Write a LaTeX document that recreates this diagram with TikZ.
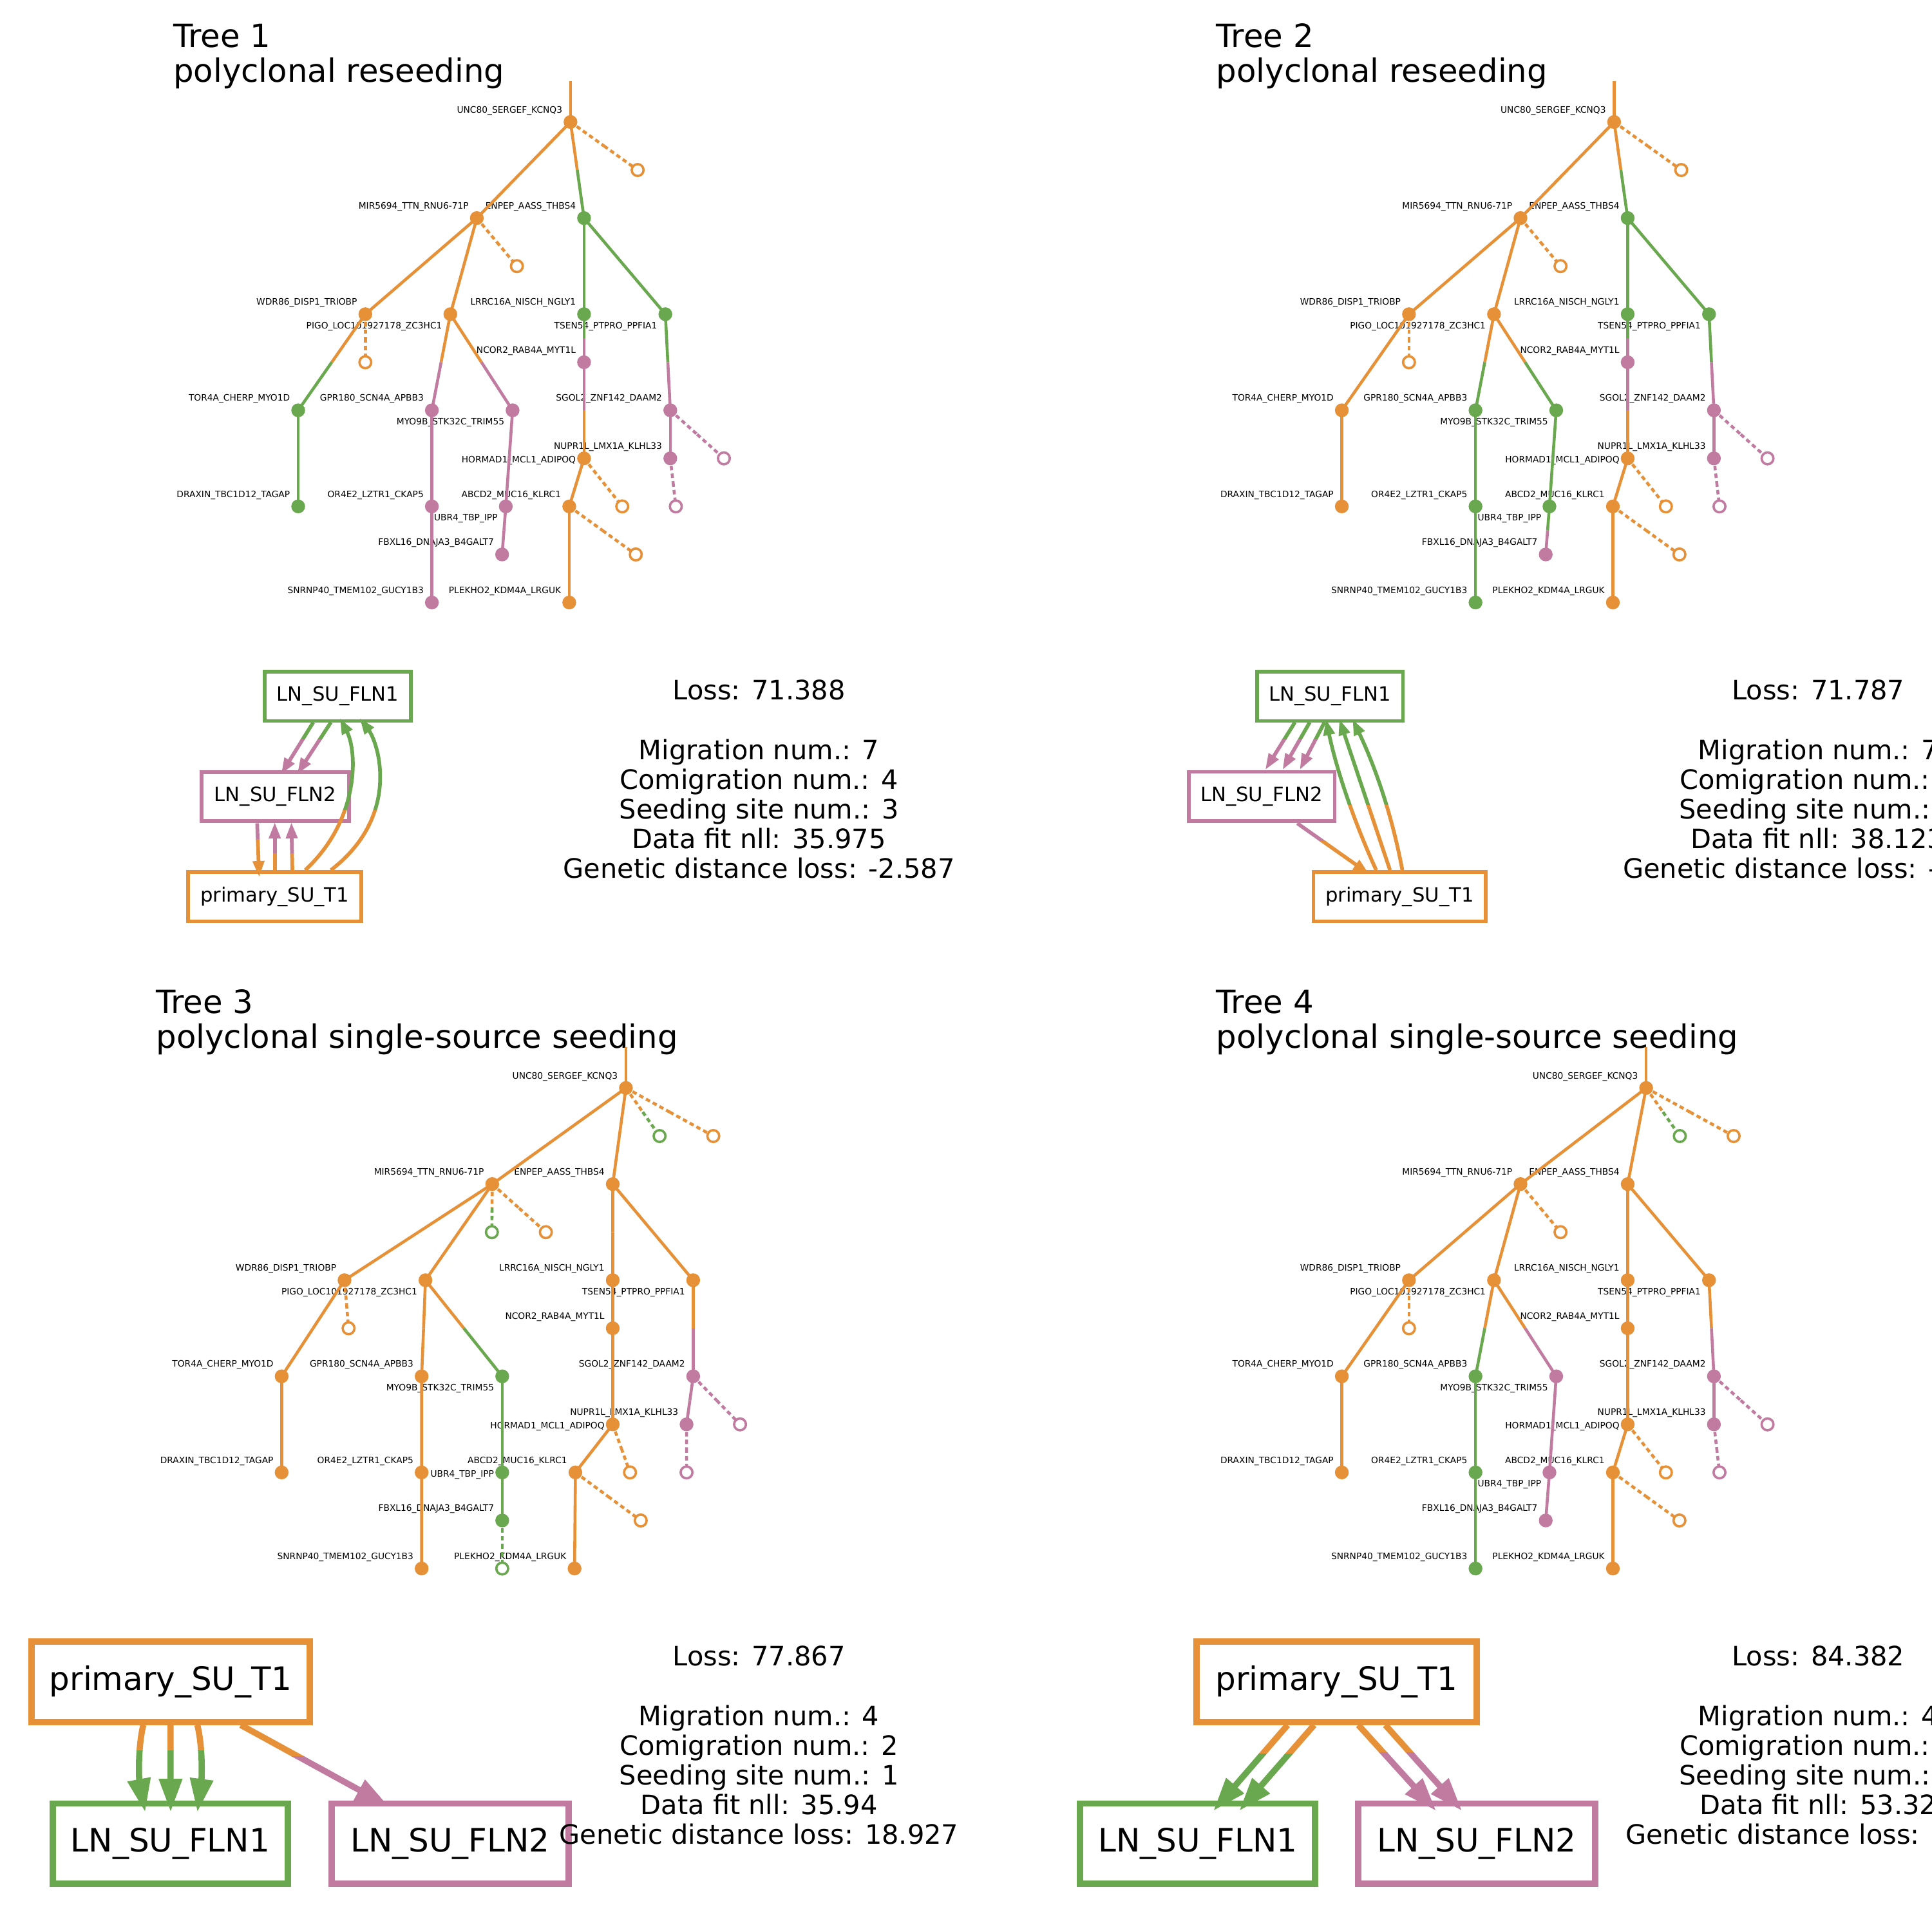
\documentclass[tikz,border=0pt]{standalone}
\usepackage{fontspec}
\setmainfont{DejaVu Sans}
\usetikzlibrary{calc,arrows.meta}

\definecolor{orng}{HTML}{E69138}
\definecolor{grn}{HTML}{6AA84F}
\definecolor{pnk}{HTML}{C27BA0}

\tikzset{
  tline/.style={line width=2.4pt},
  tdash/.style={line width=2.4pt, dash pattern=on 3.6pt off 2.6pt},
  tlab/.style={font=\fontsize{7.2}{8}\selectfont, inner sep=0pt, anchor=base east},
  treetitle/.style={font=\fontsize{26}{30}\selectfont, inner sep=0pt, anchor=base west},
  stat/.style={font=\fontsize{21.7}{24}\selectfont, inner sep=0pt},
  smallbox/.style={draw, fill=white, line width=3pt, inner sep=0pt, outer sep=0pt,
    minimum height=40pt, font=\fontsize{16}{18}\selectfont},
  bigbox/.style={draw, fill=white, line width=5.2pt, inner sep=0pt, outer sep=0pt,
    minimum height=65.3pt, font=\fontsize{26.1}{30}\selectfont},
  thinmig/.style={line width=3pt, -{Triangle[length=13pt,width=9pt]}},
  thickmig/.style={line width=5pt, -{Triangle[length=27pt,width=18pt]}},
}

% tree edge, coloured half and half
\newcommand{\treeedge}[4]{%
  \draw[tline,#3] (#1) -- ($(#1)!.5!(#2)$);
  \draw[tline,#4] ($(#1)!.5!(#2)$) -- (#2);}
\newcommand{\treedash}[4]{%
  \draw[tdash,#3] (#1) -- ($(#1)!.5!(#2)$);
  \draw[tdash,#4] ($(#1)!.5!(#2)$) -- (#2);}
\newcommand{\treedot}[2]{\fill[#2] (#1) circle [radius=5.6pt];}
\newcommand{\treeleaf}[2]{\filldraw[draw=#2, fill=white, line width=1.9pt] (#1) circle [radius=4.8pt];}

% migration edge, colour above / below a split line
\newcommand{\splitmig}[5]{%
  \begin{scope}
    \clip (-20,-20) rectangle (1600,#3);
    \draw[#4,#1] #5;
  \end{scope}
  \begin{scope}
    \clip (-20,#3) rectangle (1600,1600);
    \draw[#4,#2] #5;
  \end{scope}}

% shared layout of trees 1, 2 and 4
\newcommand{\treecoords}[3]{%
  \coordinate (#1B) at (387+#2,177+#3);
  \coordinate (#1C) at (474+#2,177+#3);
  \coordinate (#1D) at (296.5+#2,255+#3);
  \coordinate (#1E) at (365.5+#2,255+#3);
  \coordinate (#1N) at (474+#2,255+#3);
  \coordinate (#1O) at (540+#2,255+#3);
  \coordinate (#1P) at (474+#2,294+#3);
  \coordinate (#1F) at (242+#2,333+#3);
  \coordinate (#1H) at (350.5+#2,333+#3);
  \coordinate (#1I) at (416+#2,333+#3);
  \coordinate (#1T) at (544+#2,333+#3);
  \coordinate (#1Q) at (474+#2,372+#3);
  \coordinate (#1U) at (544+#2,372+#3);
  \coordinate (#1G) at (242+#2,411+#3);
  \coordinate (#1J) at (350.5+#2,411+#3);
  \coordinate (#1L) at (410.5+#2,411+#3);
  \coordinate (#1R) at (462+#2,411+#3);
  \coordinate (#1M) at (407.5+#2,450+#3);
  \coordinate (#1K) at (350.5+#2,489+#3);
  \coordinate (#1S) at (462+#2,489+#3);
  \coordinate (#1xB) at (419.5+#2,216+#3);
  \coordinate (#1xD) at (296.5+#2,294+#3);
  \coordinate (#1xQ) at (505+#2,411+#3);
  \coordinate (#1xR) at (516+#2,450+#3);
  \coordinate (#1xT) at (587.5+#2,372+#3);
  \coordinate (#1xU) at (548.5+#2,411+#3);}

% clone labels, #2 = baseline offset of the UBR4 label
\newcommand{\treelabels}[2]{%
  \node[tlab] (#1lA) at ($(#1A)+(-6.5,-7.4)$) {UNC80\_SERGEF\_KCNQ3};
  \node[tlab] (#1lB) at ($(#1B)+(-6.5,-7.4)$) {MIR5694\_TTN\_RNU6-71P};
  \node[tlab] (#1lC) at ($(#1C)+(-6.5,-7.4)$) {ENPEP\_AASS\_THBS4};
  \node[tlab] (#1lD) at ($(#1D)+(-6.5,-7.4)$) {WDR86\_DISP1\_TRIOBP};
  \node[tlab] (#1lE) at ($(#1E)+(-6.5,11.6)$) {PIGO\_LOC101927178\_ZC3HC1};
  \node[tlab] (#1lN) at ($(#1N)+(-6.5,-7.4)$) {LRRC16A\_NISCH\_NGLY1};
  \node[tlab] (#1lO) at ($(#1O)+(-6.5,11.6)$) {TSEN54\_PTPRO\_PPFIA1};
  \node[tlab] (#1lP) at ($(#1P)+(-6.5,-7.4)$) {NCOR2\_RAB4A\_MYT1L};
  \node[tlab] (#1lF) at ($(#1F)+(-6.5,-7.4)$) {TOR4A\_CHERP\_MYO1D};
  \node[tlab] (#1lH) at ($(#1H)+(-6.5,-7.4)$) {GPR180\_SCN4A\_APBB3};
  \node[tlab] (#1lI) at ($(#1I)+(-6.5,11.6)$) {MYO9B\_STK32C\_TRIM55};
  \node[tlab] (#1lT) at ($(#1T)+(-6.5,-7.4)$) {SGOL2\_ZNF142\_DAAM2};
  \node[tlab] (#1lQ) at ($(#1Q)+(-6.5,3.6)$) {HORMAD1\_MCL1\_ADIPOQ};
  \node[tlab] (#1lU) at ($(#1U)+(-6.5,-7.4)$) {NUPR1L\_LMX1A\_KLHL33};
  \node[tlab] (#1lG) at ($(#1G)+(-6.5,-7.4)$) {DRAXIN\_TBC1D12\_TAGAP};
  \node[tlab] (#1lJ) at ($(#1J)+(-6.5,-7.4)$) {OR4E2\_LZTR1\_CKAP5};
  \node[tlab] (#1lL) at ($(#1L)+(-6.5,#2)$) {UBR4\_TBP\_IPP};
  \node[tlab] (#1lR) at ($(#1R)+(-6.5,-7.4)$) {ABCD2\_MUC16\_KLRC1};
  \node[tlab] (#1lM) at ($(#1M)+(-6.5,-7.4)$) {FBXL16\_DNAJA3\_B4GALT7};
  \node[tlab] (#1lK) at ($(#1K)+(-6.5,-7.4)$) {SNRNP40\_TMEM102\_GUCY1B3};
  \node[tlab] (#1lS) at ($(#1S)+(-6.5,-7.4)$) {PLEKHO2\_KDM4A\_LRGUK};}

\begin{document}
\begin{tikzpicture}[x=1pt,y=-1pt]
\useasboundingbox (0,0) rectangle (1568,1568);
\clip (0,0) rectangle (1568,1568);
\fill[white] (0,0) rectangle (1568,1568);

% ---------------- tree 1 ----------------
\node[treetitle] (t1title) at (140.5,38.5) {Tree 1};
\node[treetitle] (t1kind) at (140.5,66.5) {polyclonal reseeding};
\treecoords{t1}{0}{0}
\coordinate (t1top) at (463,66);
\coordinate (t1A) at (463,99);
\coordinate (t1xA) at (517.5,138);
\treelabels{t1}{11.6}
\treeedge{t1top}{t1A}{orng}{orng}
\treeedge{t1A}{t1B}{orng}{orng}
\treeedge{t1A}{t1C}{orng}{grn}
\treedash{t1A}{t1xA}{orng}{orng}
\treeedge{t1B}{t1D}{orng}{orng}
\treeedge{t1B}{t1E}{orng}{orng}
\treedash{t1B}{t1xB}{orng}{orng}
\treeedge{t1D}{t1F}{orng}{grn}
\treedash{t1D}{t1xD}{orng}{orng}
\treeedge{t1F}{t1G}{grn}{grn}
\treeedge{t1E}{t1H}{orng}{pnk}
\treeedge{t1E}{t1I}{orng}{pnk}
\treeedge{t1H}{t1J}{pnk}{pnk}
\treeedge{t1J}{t1K}{pnk}{pnk}
\treeedge{t1I}{t1L}{pnk}{pnk}
\treeedge{t1L}{t1M}{pnk}{pnk}
\treeedge{t1C}{t1N}{grn}{grn}
\treeedge{t1C}{t1O}{grn}{grn}
\treeedge{t1N}{t1P}{grn}{pnk}
\treeedge{t1P}{t1Q}{pnk}{orng}
\treeedge{t1Q}{t1R}{orng}{orng}
\treedash{t1Q}{t1xQ}{orng}{orng}
\treeedge{t1R}{t1S}{orng}{orng}
\treedash{t1R}{t1xR}{orng}{orng}
\treeedge{t1O}{t1T}{grn}{pnk}
\treeedge{t1T}{t1U}{pnk}{pnk}
\treedash{t1T}{t1xT}{pnk}{pnk}
\treedash{t1U}{t1xU}{pnk}{pnk}
\treedot{t1A}{orng} \treedot{t1B}{orng} \treedot{t1D}{orng} \treedot{t1E}{orng}
\treedot{t1Q}{orng} \treedot{t1R}{orng} \treedot{t1S}{orng}
\treedot{t1C}{grn} \treedot{t1F}{grn} \treedot{t1G}{grn} \treedot{t1N}{grn} \treedot{t1O}{grn}
\treedot{t1H}{pnk} \treedot{t1I}{pnk} \treedot{t1J}{pnk} \treedot{t1K}{pnk} \treedot{t1L}{pnk}
\treedot{t1M}{pnk} \treedot{t1P}{pnk} \treedot{t1T}{pnk} \treedot{t1U}{pnk}
\treeleaf{t1xA}{orng} \treeleaf{t1xB}{orng} \treeleaf{t1xD}{orng} \treeleaf{t1xQ}{orng}
\treeleaf{t1xR}{orng} \treeleaf{t1xT}{pnk} \treeleaf{t1xU}{pnk}

% migration graph 1
\node[smallbox, draw=grn, minimum width=118.5pt] (g1ln1) at (274.2,565.1) {LN\_SU\_FLN1};
\node[smallbox, draw=pnk, minimum width=119.5pt] (g1ln2) at (223.5,646.5) {LN\_SU\_FLN2};
\node[smallbox, draw=orng, minimum width=140.5pt] (g1pri) at (223,727.7) {primary\_SU\_T1};
\splitmig{grn}{pnk}{600.3}{thinmig}{($(g1ln1.south)+(-20,1.2)$) -- ($(g1ln2.north)+(4.7,1.7)$)}
\splitmig{grn}{pnk}{600.3}{thinmig}{($(g1ln1.south)+(-5.7,1.2)$) -- ($(g1ln2.north)+(17.7,1.7)$)}
\splitmig{pnk}{orng}{681.4}{thinmig}{($(g1ln2.south)+(-14.8,1.7)$) -- ($(g1pri.north)+(-12.7,4.1)$)}
\splitmig{pnk}{orng}{692.7}{thinmig}{($(g1pri.north)+(0,-1.3)$) -- ($(g1ln2.south)+(-0.5,0.9)$)}
\splitmig{pnk}{orng}{692.7}{thinmig}{($(g1pri.north)+(14.3,-1.3)$) -- ($(g1ln2.south)+(13,0.9)$)}
\splitmig{grn}{orng}{657.8}{thinmig}{($(g1pri.north)+(24.7,-1.5)$) .. controls (292,665) and (290,610) .. ($(g1ln1.south)+(1.7,-2.2)$)}
\splitmig{grn}{orng}{657.8}{thinmig}{($(g1pri.north)+(45.5,-1.5)$) .. controls (326,662) and (307,603) .. ($(g1ln1.south)+(17.8,-2.2)$)}
\node[stat, anchor=base] (s1loss) at (616,568) {Loss: 71.388};
\node[stat, anchor=base] (s1mig) at (616,616.5) {Migration num.: 7};
\node[stat, anchor=base] (s1com) at (616,640.5) {Comigration num.: 4};
\node[stat, anchor=base] (s1seed) at (616,664.5) {Seeding site num.: 3};
\node[stat, anchor=base] (s1fit) at (616,688.5) {Data fit nll: 35.975};
\node[stat, anchor=base] (s1gen) at (616,712.5) {Genetic distance loss: -2.587};

% ---------------- tree 2 ----------------
\node[treetitle] (t2title) at (987,38.5) {Tree 2};
\node[treetitle] (t2kind) at (987,66.5) {polyclonal reseeding};
\treecoords{t2}{847}{0}
\coordinate (t2top) at (1310,66);
\coordinate (t2A) at (1310,99);
\coordinate (t2xA) at (1364.5,138);
\treelabels{t2}{11.6}
\treeedge{t2top}{t2A}{orng}{orng}
\treeedge{t2A}{t2B}{orng}{orng}
\treeedge{t2A}{t2C}{orng}{grn}
\treedash{t2A}{t2xA}{orng}{orng}
\treeedge{t2B}{t2D}{orng}{orng}
\treeedge{t2B}{t2E}{orng}{orng}
\treedash{t2B}{t2xB}{orng}{orng}
\treeedge{t2D}{t2F}{orng}{orng}
\treedash{t2D}{t2xD}{orng}{orng}
\treeedge{t2F}{t2G}{orng}{orng}
\treeedge{t2E}{t2H}{orng}{grn}
\treeedge{t2E}{t2I}{orng}{grn}
\treeedge{t2H}{t2J}{grn}{grn}
\treeedge{t2J}{t2K}{grn}{grn}
\treeedge{t2I}{t2L}{grn}{grn}
\treeedge{t2L}{t2M}{grn}{pnk}
\treeedge{t2C}{t2N}{grn}{grn}
\treeedge{t2C}{t2O}{grn}{grn}
\treeedge{t2N}{t2P}{grn}{pnk}
\treeedge{t2P}{t2Q}{pnk}{orng}
\treeedge{t2Q}{t2R}{orng}{orng}
\treedash{t2Q}{t2xQ}{orng}{orng}
\treeedge{t2R}{t2S}{orng}{orng}
\treedash{t2R}{t2xR}{orng}{orng}
\treeedge{t2O}{t2T}{grn}{pnk}
\treeedge{t2T}{t2U}{pnk}{pnk}
\treedash{t2T}{t2xT}{pnk}{pnk}
\treedash{t2U}{t2xU}{pnk}{pnk}
\treedot{t2A}{orng} \treedot{t2B}{orng} \treedot{t2D}{orng} \treedot{t2E}{orng} \treedot{t2F}{orng}
\treedot{t2G}{orng} \treedot{t2Q}{orng} \treedot{t2R}{orng} \treedot{t2S}{orng}
\treedot{t2C}{grn} \treedot{t2H}{grn} \treedot{t2I}{grn} \treedot{t2J}{grn} \treedot{t2K}{grn}
\treedot{t2L}{grn} \treedot{t2N}{grn} \treedot{t2O}{grn}
\treedot{t2M}{pnk} \treedot{t2P}{pnk} \treedot{t2T}{pnk} \treedot{t2U}{pnk}
\treeleaf{t2xA}{orng} \treeleaf{t2xB}{orng} \treeleaf{t2xD}{orng} \treeleaf{t2xQ}{orng}
\treeleaf{t2xR}{orng} \treeleaf{t2xT}{pnk} \treeleaf{t2xU}{pnk}

% migration graph 2
\node[smallbox, draw=grn, minimum width=118.5pt] (g2ln1) at (1079.3,565.1) {LN\_SU\_FLN1};
\node[smallbox, draw=pnk, minimum width=118.5pt] (g2ln2) at (1023.9,646.4) {LN\_SU\_FLN2};
\node[smallbox, draw=orng, minimum width=140pt] (g2pri) at (1135.9,727.7) {primary\_SU\_T1};
\splitmig{grn}{pnk}{600.3}{thinmig}{($(g2ln1.south)+(-28.4,1.2)$) -- ($(g2ln2.north)+(3,-1.7)$)}
\splitmig{grn}{pnk}{600.3}{thinmig}{($(g2ln1.south)+(-16.4,1.2)$) -- ($(g2ln2.north)+(17,-1.7)$)}
\splitmig{grn}{pnk}{600.3}{thinmig}{($(g2ln1.south)+(-4.4,1.2)$) -- ($(g2ln2.north)+(31,-1.7)$)}
\splitmig{pnk}{orng}{682.7}{thinmig}{($(g2ln2.south)+(29,1.8)$) -- ($(g2pri.north)+(-24.9,1.5)$)}
\splitmig{grn}{orng}{653.4}{thinmig}{($(g2pri.north)+(-19,-1.5)$) .. controls (1098.3,665.4) and (1084.7,624.5) .. ($(g2ln1.south)+(-3.2,-1.4)$)}
\splitmig{grn}{orng}{653.4}{thinmig}{($(g2pri.north)+(-7.8,-1.5)$) -- ($(g2ln1.south)+(7.7,-1.4)$)}
\splitmig{grn}{orng}{653.4}{thinmig}{($(g2pri.north)+(2.2,-1.5)$) .. controls (1130.6,665.4) and (1117.2,624.5) .. ($(g2ln1.south)+(18.4,-1.4)$)}
\node[stat, anchor=base west] (s2loss) at (1405.5,568) {Loss: 71.787};
\node[stat, anchor=base west] (s2mig) at (1377.9,616.5) {Migration num.: 7};
\node[stat, anchor=base west] (s2com) at (1363.2,640.5) {Comigration num.:};
\node[stat, anchor=base west] (s2seed) at (1362.7,664.5) {Seeding site num.:};
\node[stat, anchor=base west] (s2fit) at (1371.8,688.5) {Data fit nll: 38.123};
\node[stat, anchor=base west] (s2gen) at (1317,712.5) {Genetic distance loss: -};

% ---------------- tree 3 ----------------
\node[treetitle] (t3title) at (126.5,822.5) {Tree 3};
\node[treetitle] (t3kind) at (126.5,850.5) {polyclonal single-source seeding};
\coordinate (t3top) at (508,850);
\coordinate (t3A) at (508,883);
\coordinate (t3B) at (399.5,961);
\coordinate (t3C) at (497.3,961);
\coordinate (t3D) at (279.6,1039);
\coordinate (t3E) at (345.3,1039);
\coordinate (t3N) at (497.3,1039);
\coordinate (t3O) at (562.6,1039);
\coordinate (t3P) at (497.3,1078);
\coordinate (t3F) at (228.6,1117);
\coordinate (t3H) at (342.2,1117);
\coordinate (t3I) at (407.6,1117);
\coordinate (t3T) at (562.6,1117);
\coordinate (t3Q) at (497.3,1156);
\coordinate (t3U) at (557.2,1156);
\coordinate (t3G) at (228.6,1195);
\coordinate (t3J) at (342.2,1195);
\coordinate (t3L) at (407.6,1195);
\coordinate (t3R) at (467,1195);
\coordinate (t3M) at (407.6,1234);
\coordinate (t3K) at (342.2,1273);
\coordinate (t3S) at (466.3,1273);
\coordinate (t3xAg) at (535.3,922);
\coordinate (t3xA) at (578.9,922);
\coordinate (t3xBg) at (399.2,1000);
\coordinate (t3xB) at (443,1000);
\coordinate (t3xD) at (282.9,1078);
\coordinate (t3xQ) at (511.3,1195);
\coordinate (t3xR) at (520,1234);
\coordinate (t3xT) at (600.6,1156);
\coordinate (t3xU) at (557.2,1195);
\coordinate (t3xM) at (407.6,1273);
\treelabels{t3}{3.6}
\treeedge{t3top}{t3A}{orng}{orng}
\treeedge{t3A}{t3B}{orng}{orng}
\treeedge{t3A}{t3C}{orng}{orng}
\treedash{t3A}{t3xAg}{orng}{grn}
\treedash{t3A}{t3xA}{orng}{orng}
\treeedge{t3B}{t3D}{orng}{orng}
\treeedge{t3B}{t3E}{orng}{orng}
\treedash{t3B}{t3xBg}{orng}{grn}
\treedash{t3B}{t3xB}{orng}{orng}
\treeedge{t3D}{t3F}{orng}{orng}
\treedash{t3D}{t3xD}{orng}{orng}
\treeedge{t3F}{t3G}{orng}{orng}
\treeedge{t3E}{t3H}{orng}{orng}
\treeedge{t3E}{t3I}{orng}{grn}
\treeedge{t3H}{t3J}{orng}{orng}
\treeedge{t3J}{t3K}{orng}{orng}
\treeedge{t3I}{t3L}{grn}{grn}
\treeedge{t3L}{t3M}{grn}{grn}
\treedash{t3M}{t3xM}{grn}{grn}
\treeedge{t3C}{t3N}{orng}{orng}
\treeedge{t3C}{t3O}{orng}{orng}
\treeedge{t3N}{t3P}{orng}{orng}
\treeedge{t3P}{t3Q}{orng}{orng}
\treeedge{t3Q}{t3R}{orng}{orng}
\treedash{t3Q}{t3xQ}{orng}{orng}
\treeedge{t3R}{t3S}{orng}{orng}
\treedash{t3R}{t3xR}{orng}{orng}
\treeedge{t3O}{t3T}{orng}{pnk}
\treeedge{t3T}{t3U}{pnk}{pnk}
\treedash{t3T}{t3xT}{pnk}{pnk}
\treedash{t3U}{t3xU}{pnk}{pnk}
\treedot{t3A}{orng} \treedot{t3B}{orng} \treedot{t3C}{orng} \treedot{t3D}{orng} \treedot{t3E}{orng}
\treedot{t3F}{orng} \treedot{t3G}{orng} \treedot{t3H}{orng} \treedot{t3J}{orng} \treedot{t3K}{orng}
\treedot{t3N}{orng} \treedot{t3O}{orng} \treedot{t3P}{orng} \treedot{t3Q}{orng} \treedot{t3R}{orng}
\treedot{t3S}{orng}
\treedot{t3I}{grn} \treedot{t3L}{grn} \treedot{t3M}{grn}
\treedot{t3T}{pnk} \treedot{t3U}{pnk}
\treeleaf{t3xAg}{grn} \treeleaf{t3xA}{orng} \treeleaf{t3xBg}{grn} \treeleaf{t3xB}{orng}
\treeleaf{t3xD}{orng} \treeleaf{t3xQ}{orng} \treeleaf{t3xR}{orng} \treeleaf{t3xT}{pnk}
\treeleaf{t3xU}{pnk} \treeleaf{t3xM}{grn}

% migration graph 3
\node[bigbox, draw=orng, minimum width=226pt] (g3pri) at (138.4,1364.75) {primary\_SU\_T1};
\node[bigbox, draw=grn, minimum width=191pt] (g3ln1) at (138.2,1496.35) {LN\_SU\_FLN1};
\node[bigbox, draw=pnk, minimum width=192pt] (g3ln2) at (365.3,1496.35) {LN\_SU\_FLN2};
\splitmig{orng}{grn}{1421}{thickmig}{($(g3pri.south)+(-22.1,2.6)$) .. controls (111.5,1420) and (113,1445) .. ($(g3ln1.north)+(-20.4,6.9)$)}
\splitmig{orng}{grn}{1421}{thickmig}{($(g3pri.south)+(0,2.6)$) -- ($(g3ln1.north)+(0.3,6.9)$)}
\splitmig{orng}{grn}{1421}{thickmig}{($(g3pri.south)+(21.8,2.6)$) .. controls (165,1420) and (163.5,1445) .. ($(g3ln1.north)+(22,6.9)$)}
\splitmig{orng}{pnk}{1425.4}{thickmig}{($(g3pri.south)+(57,2.6)$) -- ($(g3ln2.north)+(-50.1,2)$)}
\node[stat, anchor=base] (s3loss) at (616,1352) {Loss: 77.867};
\node[stat, anchor=base] (s3mig) at (616,1400.5) {Migration num.: 4};
\node[stat, anchor=base] (s3com) at (616,1424.5) {Comigration num.: 2};
\node[stat, anchor=base] (s3seed) at (616,1448.5) {Seeding site num.: 1};
\node[stat, anchor=base] (s3fit) at (616,1472.5) {Data fit nll: 35.94};
\node[stat, anchor=base] (s3gen) at (616,1496.5) {Genetic distance loss: 18.927};

% ---------------- tree 4 ----------------
\node[treetitle] (t4title) at (987,822.5) {Tree 4};
\node[treetitle] (t4kind) at (987,850.5) {polyclonal single-source seeding};
\treecoords{t4}{847}{784}
\coordinate (t4top) at (1336,850);
\coordinate (t4A) at (1336,883);
\coordinate (t4xAg) at (1363.3,922);
\coordinate (t4xA) at (1407,922);
\treelabels{t4}{11.6}
\treeedge{t4top}{t4A}{orng}{orng}
\treeedge{t4A}{t4B}{orng}{orng}
\treeedge{t4A}{t4C}{orng}{orng}
\treedash{t4A}{t4xAg}{orng}{grn}
\treedash{t4A}{t4xA}{orng}{orng}
\treeedge{t4B}{t4D}{orng}{orng}
\treeedge{t4B}{t4E}{orng}{orng}
\treedash{t4B}{t4xB}{orng}{orng}
\treeedge{t4D}{t4F}{orng}{orng}
\treedash{t4D}{t4xD}{orng}{orng}
\treeedge{t4F}{t4G}{orng}{orng}
\treeedge{t4E}{t4H}{orng}{grn}
\treeedge{t4E}{t4I}{orng}{pnk}
\treeedge{t4H}{t4J}{grn}{grn}
\treeedge{t4J}{t4K}{grn}{grn}
\treeedge{t4I}{t4L}{pnk}{pnk}
\treeedge{t4L}{t4M}{pnk}{pnk}
\treeedge{t4C}{t4N}{orng}{orng}
\treeedge{t4C}{t4O}{orng}{orng}
\treeedge{t4N}{t4P}{orng}{orng}
\treeedge{t4P}{t4Q}{orng}{orng}
\treeedge{t4Q}{t4R}{orng}{orng}
\treedash{t4Q}{t4xQ}{orng}{orng}
\treeedge{t4R}{t4S}{orng}{orng}
\treedash{t4R}{t4xR}{orng}{orng}
\treeedge{t4O}{t4T}{orng}{pnk}
\treeedge{t4T}{t4U}{pnk}{pnk}
\treedash{t4T}{t4xT}{pnk}{pnk}
\treedash{t4U}{t4xU}{pnk}{pnk}
\treedot{t4A}{orng} \treedot{t4B}{orng} \treedot{t4C}{orng} \treedot{t4D}{orng} \treedot{t4E}{orng}
\treedot{t4F}{orng} \treedot{t4G}{orng} \treedot{t4N}{orng} \treedot{t4O}{orng} \treedot{t4P}{orng}
\treedot{t4Q}{orng} \treedot{t4R}{orng} \treedot{t4S}{orng}
\treedot{t4H}{grn} \treedot{t4J}{grn} \treedot{t4K}{grn}
\treedot{t4I}{pnk} \treedot{t4L}{pnk} \treedot{t4M}{pnk} \treedot{t4T}{pnk} \treedot{t4U}{pnk}
\treeleaf{t4xAg}{grn} \treeleaf{t4xA}{orng} \treeleaf{t4xB}{orng} \treeleaf{t4xD}{orng}
\treeleaf{t4xQ}{orng} \treeleaf{t4xR}{orng} \treeleaf{t4xT}{pnk} \treeleaf{t4xU}{pnk}

% migration graph 4
\node[bigbox, draw=orng, minimum width=227pt] (g4pri) at (1084.8,1364.75) {primary\_SU\_T1};
\node[bigbox, draw=grn, minimum width=191pt] (g4ln1) at (972,1496.35) {LN\_SU\_FLN1};
\node[bigbox, draw=pnk, minimum width=192pt] (g4ln2) at (1198.5,1496.35) {LN\_SU\_FLN2};
\splitmig{orng}{grn}{1423.5}{thickmig}{($(g4pri.south)+(-39.8,2.6)$) -- ($(g4ln1.north)+(12.8,5.9)$)}
\splitmig{orng}{grn}{1423.5}{thickmig}{($(g4pri.south)+(-18.3,2.6)$) -- ($(g4ln1.north)+(33.8,5.9)$)}
\splitmig{orng}{pnk}{1422.6}{thickmig}{($(g4pri.south)+(17.6,2.6)$) -- ($(g4ln2.north)+(-33,5.9)$)}
\splitmig{orng}{pnk}{1422.6}{thickmig}{($(g4pri.south)+(39.5,2.6)$) -- ($(g4ln2.north)+(-12,5.9)$)}
\node[stat, anchor=base west] (s4loss) at (1405.5,1352) {Loss: 84.382};
\node[stat, anchor=base west] (s4mig) at (1377.9,1400.5) {Migration num.: 4};
\node[stat, anchor=base west] (s4com) at (1363.2,1424.5) {Comigration num.:};
\node[stat, anchor=base west] (s4seed) at (1362.7,1448.5) {Seeding site num.:};
\node[stat, anchor=base west] (s4fit) at (1379.3,1472.5) {Data fit nll: 53.32};
\node[stat, anchor=base west] (s4gen) at (1319,1496.5) {Genetic distance loss:};
\end{tikzpicture}
\end{document}
